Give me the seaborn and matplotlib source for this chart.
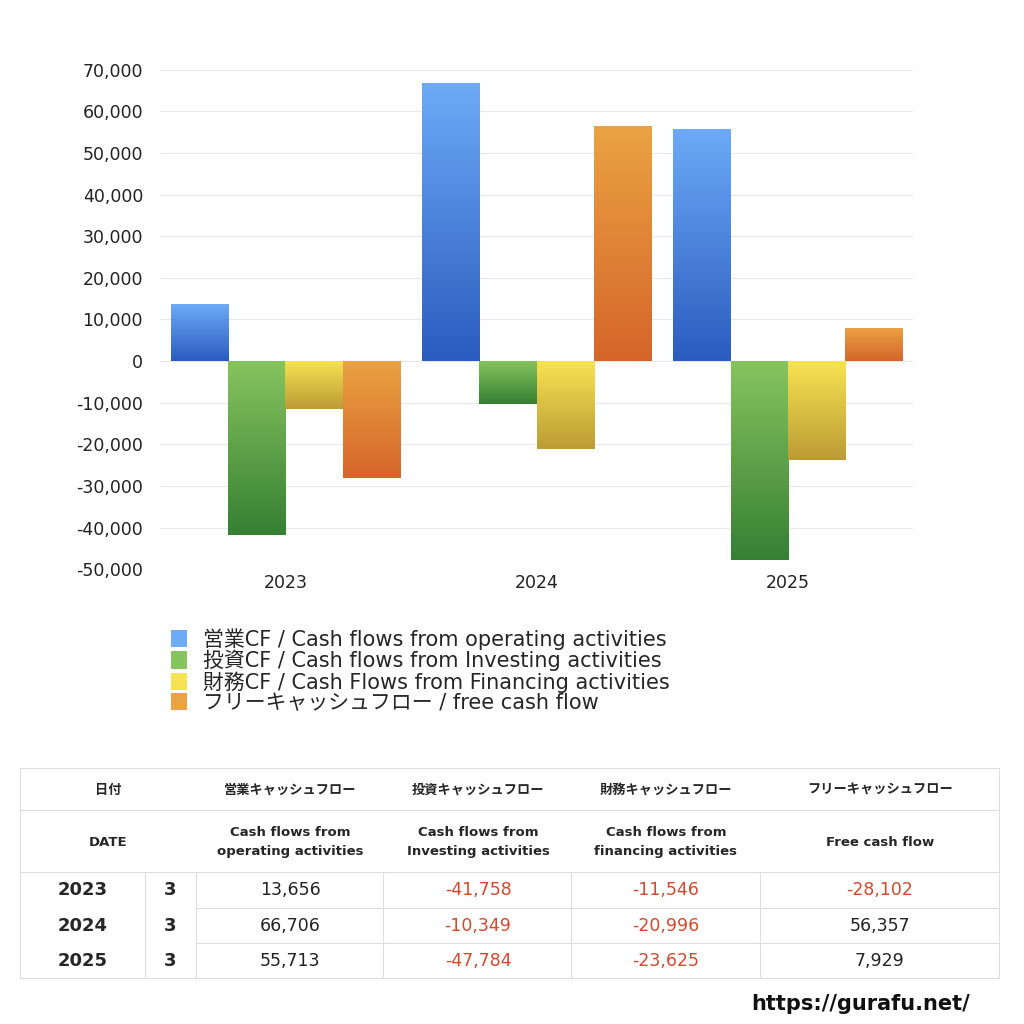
import numpy as np
import pandas as pd
import seaborn as sns
import matplotlib.pyplot as plt
from matplotlib.colors import LinearSegmentedColormap
from matplotlib.patches import Patch

years = ['2023', '2024', '2025']
operating = [13656, 66706, 55713]
investing = [-41758, -10349, -47784]
financing = [-11546, -20996, -23625]
free_cf = [-28102, 56357, 7929]
series_names = ['営業CF / Cash flows from operating activities',
                '投資CF / Cash flows from Investing activities',
                '財務CF / Cash Flows from Financing activities',
                'フリーキャッシュフロー / free cash flow']
months = ['3', '3', '3']
# (top colour, bottom colour) of each gradient
grads = [('#6eaaf7', '#2a5cbf'), ('#86c45e', '#368033'),
         ('#f7e352', '#bb9c34'), ('#eaa342', '#d5652a')]

sns.set_theme(style='white')
plt.rcParams['font.family'] = ['DejaVu Sans', 'Noto Sans CJK JP']

df = pd.DataFrame({'year': years * 4,
                   'series': sum([[s] * 3 for s in series_names], []),
                   'value': operating + investing + financing + free_cf})

fig = plt.figure(figsize=(10.24, 10.24), dpi=100)
ax = fig.add_axes([0.156, 0.444, 0.736, 0.488])
sns.barplot(data=df, x='year', y='value', hue='series', hue_order=series_names,
            palette=[g[1] for g in grads], width=0.91, ax=ax, legend=False)
ax.set_ylim(-50000, 70000)
xl = ax.get_xlim()

# gradient fills clipped to bars
for cont, (c_top, c_bot) in zip(ax.containers, grads):
    cmap = LinearSegmentedColormap.from_list('g', [c_top, c_bot])
    for p in cont.patches:
        x0, y0 = p.get_x(), p.get_y()
        w, h = p.get_width(), p.get_height()
        lo, hi = min(y0, y0 + h), max(y0, y0 + h)
        im = ax.imshow(np.linspace(0, 1, 256).reshape(-1, 1), cmap=cmap, aspect='auto',
                       extent=(x0, x0 + w, lo, hi), origin='upper', zorder=3)
        im.set_clip_path(p)
        p.set_facecolor('none')
        p.set_edgecolor('none')
ax.set_xlim(xl)
ax.set_ylim(-50000, 70000)

ax.set_yticks(range(-50000, 70001, 10000))
ax.set_yticklabels([f'{v:,}' for v in range(-50000, 70001, 10000)])
ax.yaxis.grid(True, color='#e8e8e8', lw=0.8)
ax.set_axisbelow(True)
for s in ax.spines.values():
    s.set_visible(False)
ax.tick_params(axis='both', labelsize=12.5, colors='#222222', length=0)
ax.tick_params(axis='y', pad=12)
ax.set_xlabel('')
ax.set_ylabel('')

handles = [Patch(facecolor=g[0], edgecolor='none') for g in grads]
fig.legend(handles, series_names, loc='upper left', bbox_to_anchor=(0.157, 0.397),
           frameon=False, fontsize=15, handlelength=0.75, handleheight=0.9,
           labelspacing=0.0, handletextpad=0.8, borderpad=0)

# table in pixel coordinates
tx = fig.add_axes([0, 0, 1, 1])
tx.set_xlim(0, 1024)
tx.set_ylim(1024, 0)
tx.axis('off')
lc = '#dddddd'
for y in [768, 810, 872, 978]:
    tx.plot([20, 999], [y, y], color=lc, lw=0.8)
for y in [908, 943]:
    tx.plot([196, 999], [y, y], color=lc, lw=0.8)
tx.plot([20, 20], [768, 978], color=lc, lw=0.8)
tx.plot([999, 999], [768, 978], color=lc, lw=0.8)
for x in [145, 196, 383, 571, 760]:
    tx.plot([x, x], [872, 978], color=lc, lw=0.8)

cols = [290, 478, 666, 880]
head_jp = ['営業キャッシュフロー', '投資キャッシュフロー', '財務キャッシュフロー', 'フリーキャッシュフロー']
head_en = ['Cash flows from\noperating activities', 'Cash flows from\nInvesting activities',
           'Cash flows from\nfinancing activities', 'Free cash flow']
tx.text(108, 790, '日付', ha='center', va='center', fontsize=9.5, weight='bold',
        family=['Noto Sans CJK JP'])
tx.text(108, 842, 'DATE', ha='center', va='center', fontsize=9.5, weight='semibold')
for x, j, e in zip(cols, head_jp, head_en):
    tx.text(x, 790, j, ha='center', va='center', fontsize=9.5, weight='bold',
            family=['Noto Sans CJK JP'])
    tx.text(x, 842, e, ha='center', va='center', fontsize=9.5, linespacing=1.5,
            weight='semibold')

rows_y = [890, 926, 961]
values = list(zip(operating, investing, financing, free_cf))
for y, yr, m, vals in zip(rows_y, years, months, values):
    tx.text(83, y, yr, ha='center', va='center', fontsize=13, weight='bold')
    tx.text(170, y, m, ha='center', va='center', fontsize=13, weight='bold')
    for x, v in zip(cols, vals):
        tx.text(x, y, f'{v:,}', ha='center', va='center', fontsize=12.5,
                color='#d9472b' if v < 0 else '#222222')

tx.text(970, 1004, 'https://gurafu.net/', ha='right', va='center', fontsize=15,
        weight='bold', color='#111111')

fig.savefig('out.png', dpi=100)
